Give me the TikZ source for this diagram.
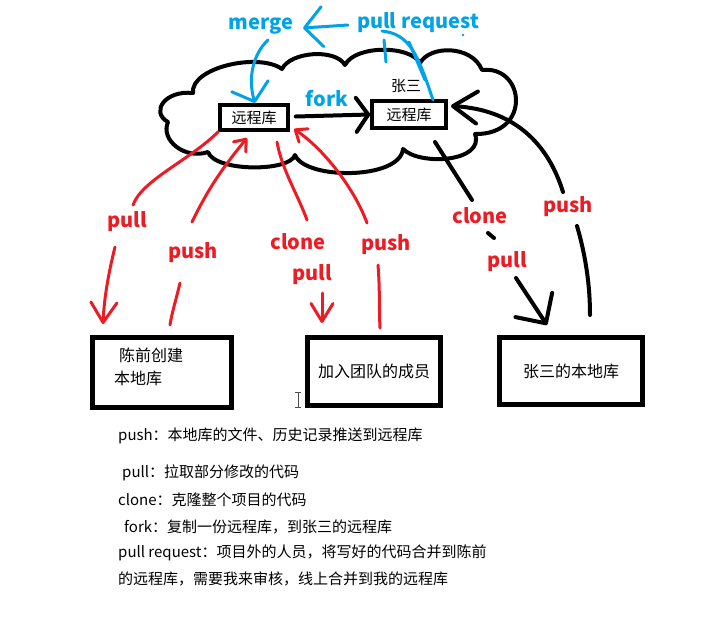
\documentclass[tikz,border=0pt]{standalone}
\usepackage{fontspec}
\setmainfont{Noto Sans CJK SC}
\usetikzlibrary{arrows.meta}
\definecolor{pred}{RGB}{237,28,36}
\definecolor{pblue}{RGB}{0,162,232}
\begin{document}
\begin{tikzpicture}[x=1pt,y=-1pt,
  txt/.style={font=\fontsize{15}{18}\selectfont, inner sep=0pt},
  btxt/.style={font=\fontsize{16}{19}\selectfont},
  lbl/.style={font=\fontsize{20}{24}\selectfont\bfseries, inner sep=0pt},
  rlbl/.style={lbl, text=pred},
  blbl/.style={lbl, text=pblue},
  rbox/.style={draw, line width=3.5pt, fill=white, inner sep=0pt, font=\fontsize{15}{18}\selectfont},
  lbox/.style={draw, line width=5pt, fill=white, inner sep=0pt, font=\fontsize{16}{19}\selectfont},
  redline/.style={draw=pred, line width=3pt, line cap=round, line join=round},
  blkline/.style={draw=black, line width=4pt, line cap=round, line join=round},
  bluline/.style={draw=pblue, line width=3pt, line cap=round, line join=round},
  cloudline/.style={draw=black, line width=4pt, line cap=round, line join=round}
]
\useasboundingbox (0,0) rectangle (702,621);

% cloud
\draw[cloudline] (193,93)
  .. controls (190,68) and (258,52) .. (282,69)
  .. controls (290,52) and (335,48) .. (345,65)
  .. controls (355,45) and (410,45) .. (420,63)
  .. controls (430,45) and (472,45) .. (482,70)
  .. controls (525,65) and (532,135) .. (475,134)
  .. controls (485,162) and (420,166) .. (403,149)
  .. controls (400,180) and (305,180) .. (295,155)
  .. controls (290,172) and (215,172) .. (208,152)
  .. controls (185,160) and (160,140) .. (168,122)
  .. controls (150,112) and (165,90) .. (193,93);

% boxes
\node[rbox, minimum width=68, minimum height=25] (rl) at (254,117.5) {远程库};
\node[rbox, minimum width=74, minimum height=27] (rr) at (409,114.5) {远程库};
\node[lbox, minimum width=139, minimum height=70] (lb) at (162,372.5) {};
\node[lbox, minimum width=133, minimum height=68] (mb) at (374,371.5) {加入团队的成员};
\node[lbox, minimum width=143, minimum height=67] (zb) at (571,371) {张三的本地库};
\node[txt, font=\fontsize{16}{19}\selectfont, anchor=west] (lb1) at (119,355) {陈前创建};
\node[txt, font=\fontsize{16}{19}\selectfont, anchor=west] (lb2) at (114,378) {本地库};

% labels
\node[blbl] (merge) at (261,26) {merge};
\node[blbl] (pr) at (418,23) {pull request};
\node[blbl] (fork) at (327,99) {fork};
\node[txt] (zs) at (406,86) {张三};
\node[rlbl] (pullA) at (127,222) {pull};
\node[rlbl] (pushA) at (193,253) {push};
\node[rlbl] (cloneB) at (298,242) {clone};
\node[rlbl] (pullB) at (312,275) {pull};
\node[rlbl] (pushB) at (386,245) {push};
\node[rlbl] (cloneC) at (480,216) {clone};
\node[rlbl] (pullC) at (507,262) {pull};
\node[rlbl] (pushC) at (568,207) {push};

% coordinates
\coordinate (a1) at (133,205);
\coordinate (a2) at (115,247);
\coordinate (a3) at (103,324);
\coordinate (b1) at (192,222);
\coordinate (b2) at (247,138);
\coordinate (b3) at (180,283);
\coordinate (b4) at (170,325);
\coordinate (c1) at (277,142);
\coordinate (c2) at (307,220);
\coordinate (c3) at (322,293);
\coordinate (c4) at (322,323);
\coordinate (d1) at (367,223);
\coordinate (d2) at (294,129);
\coordinate (d3) at (378,265);
\coordinate (d4) at (380,328);
\coordinate (e1) at (435,142);
\coordinate (e2) at (472,200);
\coordinate (e3) at (488,233);
\coordinate (e4) at (494,238);
\coordinate (e5) at (516,278);
\coordinate (e6) at (547,325);
\coordinate (f1) at (590,315);
\coordinate (f2) at (577,226);
\coordinate (f3) at (563,192);
\coordinate (f4) at (451,106);
\coordinate (g1) at (268,40);
\coordinate (g2) at (255,103);
\coordinate (h1) at (348,25);
\coordinate (h2) at (303,28);
\coordinate (k1) at (382,31);
\coordinate (k2) at (433,100);
\coordinate (k3) at (409,42);
\coordinate (k4) at (425,80);
\coordinate (k5) at (384,40);
\coordinate (k6) at (386,62);

% fork arrow
\draw[blkline, -{Straight Barb[length=12pt,width=34pt,round]}] (rl.east) ++(6,-1) -- (rr.west);

% red connectors
\draw[redline] (a1) .. controls (142,180) and (190,160) .. (rl.south west);
\draw[redline, -{Straight Barb[length=20pt,width=26pt,round]}] (a2) .. controls (108,275) and (104,300) .. (a3);
\draw[redline, -{Straight Barb[length=10pt,width=16pt,round]}] (b1) .. controls (210,185) and (225,165) .. (b2);
\draw[redline] (b3) .. controls (176,300) and (172,312) .. (b4);
\draw[redline] (c1) .. controls (282,170) and (298,195) .. (c2);
\draw[redline, -{Straight Barb[length=18pt,width=22pt,round]}] (c3) -- (c4);
\draw[redline, -{Straight Barb[length=10pt,width=16pt,round]}] (d1) .. controls (355,190) and (325,150) .. (d2);
\draw[redline] (d3) .. controls (380,290) and (379,310) .. (d4);

% black connectors (right side)
\draw[blkline] (e1) -- (e2);
\draw[blkline] (e3) -- (e4);
\draw[blkline, -{Straight Barb[length=22pt,width=44pt,round]}] (e5) -- (e6);
\draw[blkline] (f1) .. controls (590,280) and (584,250) .. (f2);
\draw[blkline, -{Straight Barb[length=24pt,width=32pt,round]}] (f3) .. controls (550,150) and (520,110) .. (f4);

% blue connectors
\draw[bluline, -{Straight Barb[length=16pt,width=38pt,round]}] (g1) .. controls (252,55) and (248,80) .. (g2);
\draw[bluline, -{Straight Barb[length=18pt,width=40pt,round]}] (h1) -- (h2);
\draw[bluline] (k1) .. controls (410,34) and (418,55) .. (k2);
\draw[bluline] (k3) -- (k4);
\draw[bluline] (k5) -- (k6);
\fill[pblue] (463,35) circle (1.3);

% text cursor
\draw[black!70, line width=0.8pt] (298,392) -- (298,407) (295,392) -- (301,392) (295,407) -- (301,407);

% notes
\node[txt, anchor=west] (n1) at (118,436) {push：本地库的文件、历史记录推送到远程库};
\node[txt, anchor=west] (n2) at (122,473) {pull：拉取部分修改的代码};
\node[txt, anchor=west] (n3) at (118,500) {clone：克隆整个项目的代码};
\node[txt, anchor=west] (n4) at (124,527) {fork：复制一份远程库，到张三的远程库};
\node[txt, anchor=west] (n5) at (118,553) {pull request：项目外的人员，将写好的代码合并到陈前};
\node[txt, anchor=west] (n6) at (118,579) {的远程库，需要我来审核，线上合并到我的远程库};
\end{tikzpicture}
\end{document}
